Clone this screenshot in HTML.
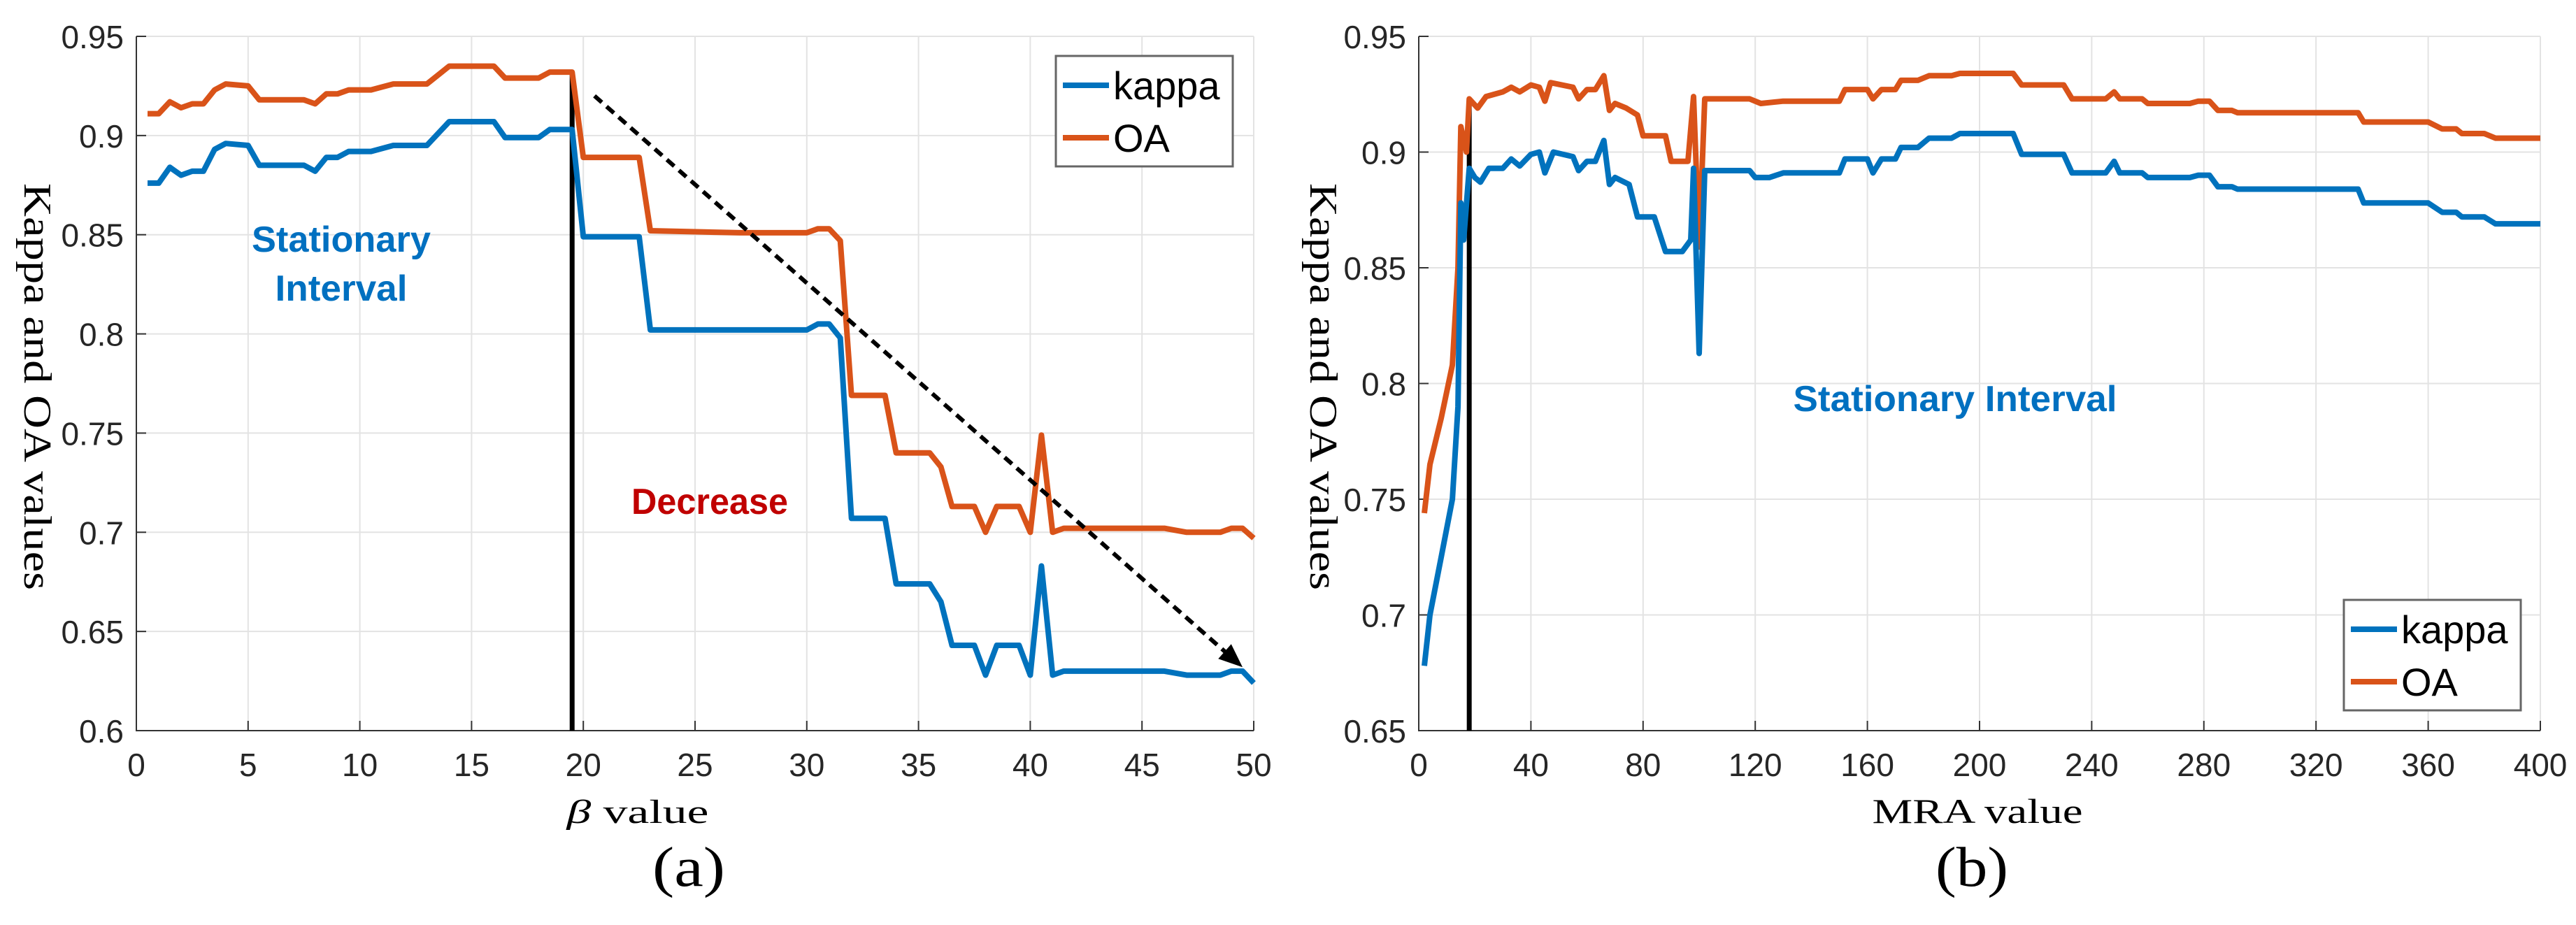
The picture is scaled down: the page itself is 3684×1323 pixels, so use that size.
<!DOCTYPE html>
<html><head><meta charset="utf-8">
<style>
html,body{margin:0;padding:0;background:#fff;}
svg{display:block;}
.tick{font-family:"Liberation Sans",sans-serif;font-size:46px;fill:#262626;}
.serif{font-family:"Liberation Serif",serif;fill:#000;}
</style></head>
<body>
<svg id="fig" width="3684" height="1323" viewBox="0 0 3684 1323"></svg>
<script>
// ---- Chart (a) data ----
const aX = [0.5,1,1.5,2,2.5,3,3.5,4,5,5.5,7.5,8,8.5,9,9.5,10.5,11.5,13,14,16,16.5,18,18.5,19.5,20,22.5,23,27,30,30.5,31,31.5,32,33.5,34,35.5,36,36.5,37.5,38,38.5,39.5,40,40.5,41,41.5,46,47,48.5,49,49.5,50];
const aKappa = [.876,.876,.884,.880,.882,.882,.893,.896,.895,.885,.885,.882,.889,.889,.892,.892,.895,.895,.907,.907,.899,.899,.903,.903,.849,.849,.802,.802,.802,.805,.805,.798,.707,.707,.674,.674,.665,.643,.643,.628,.643,.643,.628,.683,.628,.630,.630,.628,.628,.630,.630,.624];
const aOA = [.911,.911,.917,.914,.916,.916,.923,.926,.925,.918,.918,.916,.921,.921,.923,.923,.926,.926,.935,.935,.929,.929,.932,.932,.889,.889,.852,.851,.851,.853,.853,.847,.769,.769,.740,.740,.733,.713,.713,.700,.713,.713,.700,.749,.700,.702,.702,.700,.700,.702,.702,.697];
const aXTicks = [0,5,10,15,20,25,30,35,40,45,50];
const aYTicks = [0.6,0.65,0.7,0.75,0.8,0.85,0.9,0.95];
const aYLabels = ["0.6","0.65","0.7","0.75","0.8","0.85","0.9","0.95"];
const aVLine = [19.5, 0.932];
const aArrow = [20.5, 0.92, 49.5, 0.632];
// ---- Chart (b) data ----
const bX = [2,4,8,12,14,15,16,18,20,22,25,30,33,36,40,43,45,48,55,57,60,63,66,68,70,75,78,84,88,94,97,98,100,102,118,120,125,130,150,152,160,162,165,170,172,178,182,190,193,212,215,230,233,245,248,250,258,260,275,278,282,285,290,292,335,337,360,365,370,372,380,384,400];
const bKappa = [.678,.700,.725,.750,.790,.878,.862,.893,.889,.887,.893,.893,.897,.894,.899,.900,.891,.900,.898,.892,.896,.896,.905,.886,.889,.886,.872,.872,.857,.857,.862,.893,.813,.892,.892,.889,.889,.891,.891,.897,.897,.891,.897,.897,.902,.902,.906,.906,.908,.908,.899,.899,.891,.891,.896,.891,.891,.889,.889,.890,.890,.885,.885,.884,.884,.878,.878,.874,.874,.872,.872,.869,.869];
const bOAX = [2,4,8,12,14,15,17,18,21,24,30,33,36,40,43,45,47,55,57,60,63,66,68,70,74,78,80,88,90,96,98,100,102,118,122,130,150,152,160,162,165,170,172,178,182,190,193,212,215,230,233,245,248,250,258,260,275,278,282,285,290,292,335,337,360,365,370,372,380,384,400];
const bOA = [.744,.765,.785,.808,.850,.911,.900,.923,.919,.924,.926,.928,.926,.929,.928,.922,.930,.928,.923,.927,.927,.933,.918,.921,.919,.916,.907,.907,.896,.896,.924,.859,.923,.923,.921,.922,.922,.927,.927,.923,.927,.927,.931,.931,.933,.933,.934,.934,.929,.929,.923,.923,.926,.923,.923,.921,.921,.922,.922,.918,.918,.917,.917,.913,.913,.910,.910,.908,.908,.906,.906];
const bXTicks = [0,40,80,120,160,200,240,280,320,360,400];
const bYTicks = [0.65,0.7,0.75,0.8,0.85,0.9,0.95];
const bYLabels = ["0.65","0.7","0.75","0.8","0.85","0.9","0.95"];
const bVLine = [18, 0.92];

const NS="http://www.w3.org/2000/svg";
const svg=document.getElementById('fig');
function mk(tag,attrs,parent){const e=document.createElementNS(NS,tag);for(const k in attrs)e.setAttribute(k,attrs[k]);(parent||svg).appendChild(e);return e;}
const BLUE="#0072BD", ORANGE="#D95319";

function drawChart(id,cfg){
  const g=mk('g',{});
  
  
  const sx=v=>cfg.x0+(v-cfg.xmin)/(cfg.xmax-cfg.xmin)*(cfg.x1-cfg.x0);
  const sy=v=>cfg.y0-(v-cfg.ymin)/(cfg.ymax-cfg.ymin)*(cfg.y0-cfg.y1);
  cfg.xt.forEach(t=>{const l=mk('line',{x1:sx(t),x2:sx(t),y1:cfg.y0,y2:cfg.y1,stroke:'#e3e3e3','stroke-width':2},g);
    });
  cfg.yt.forEach(t=>{const l=mk('line',{x1:cfg.x0,x2:cfg.x1,y1:sy(t),y2:sy(t),stroke:'#e3e3e3','stroke-width':2},g);
    });
  const ax=mk('path',{d:`M${cfg.x0},${cfg.y1}V${cfg.y0}H${cfg.x1}`,stroke:'#333',fill:'none','stroke-width':2},g);
  
  cfg.xt.forEach(t=>{mk('line',{x1:sx(t),x2:sx(t),y1:cfg.y0,y2:cfg.y0-14,stroke:'#333','stroke-width':2},g);
    const tx=mk('text',{x:sx(t),y:1110,'text-anchor':'middle',class:'tick'},g);tx.textContent=t;
    });
  cfg.yt.forEach((t,i)=>{mk('line',{x1:cfg.x0,x2:cfg.x0+14,y1:sy(t),y2:sy(t),stroke:'#333','stroke-width':2},g);
    const tx=mk('text',{x:cfg.x0-18,y:sy(t)+17,'text-anchor':'end',class:'tick'},g);tx.textContent=cfg.yl[i];
    });
  const vl=mk('line',{x1:sx(cfg.vl[0]),x2:sx(cfg.vl[0]),y1:cfg.y0,y2:sy(cfg.vl[1]),stroke:'#000','stroke-width':7},g);
  
  const line=(xs,ys,c,name)=>{const p=mk('path',{d:xs.map((x,i)=>(i?'L':'M')+sx(x).toFixed(1)+','+sy(ys[i]).toFixed(1)).join(''),stroke:c,'stroke-width':8,fill:'none','stroke-linejoin':'round'},g);
    };
  line(cfg.ox,cfg.oa,ORANGE,'oa-line');
  line(cfg.kx,cfg.k,BLUE,'kappa-line');
  if(cfg.arrow){const a=cfg.arrow;const X1=sx(a[0]),Y1=sy(a[1]),X2=sx(a[2]),Y2=sy(a[3]);
    const ang=Math.atan2(Y2-Y1,X2-X1),L=34;
    const ar=mk('line',{x1:X1,y1:Y1,x2:X2-Math.cos(ang)*L*0.8,y2:Y2-Math.sin(ang)*L*0.8,stroke:'#000','stroke-width':6,'stroke-dasharray':'14,9'},g);
    
    const hx=X2-Math.cos(ang)*L,hy=Y2-Math.sin(ang)*L,px=-Math.sin(ang)*14,py=Math.cos(ang)*14;
    const hd=mk('polygon',{points:`${X2},${Y2} ${hx+px},${hy+py} ${hx-px},${hy-py}`,fill:'#000'},g);
    }
  const L=cfg.leg;
  const lb=mk('rect',{x:L[0],y:L[1],width:253,height:158,fill:'#fff',stroke:'#666','stroke-width':3},g);
  
  [['kappa',BLUE,42],['OA',ORANGE,117]].forEach(([n,c,dy])=>{
    mk('line',{x1:L[0]+10,x2:L[0]+76,y1:L[1]+dy,y2:L[1]+dy,stroke:c,'stroke-width':8},g);
    const t=mk('text',{x:L[0]+82,y:L[1]+dy+20,class:'tick',style:'font-size:56px;fill:#000'},g);t.textContent=n;
    });
}

drawChart('chart-a',{x0:195,x1:1793,y0:1045,y1:52,xmin:0,xmax:50,ymin:0.6,ymax:0.95,xt:aXTicks,yt:aYTicks,yl:aYLabels,
  kx:aX,k:aKappa,ox:aX,oa:aOA,vl:aVLine,arrow:aArrow,leg:[1510,80]});
drawChart('chart-b',{x0:2029,x1:3633,y0:1045,y1:52,xmin:0,xmax:400,ymin:0.65,ymax:0.95,xt:bXTicks,yt:bYTicks,yl:bYLabels,
  kx:bX,k:bKappa,ox:bOAX,oa:bOA,vl:bVLine,leg:[3352,858]});
</script>
<div style="position:absolute;left:0;top:0;width:3684px;height:1323px;pointer-events:none">
<svg width="3684" height="1323" style="position:absolute;left:0;top:0">
  <text x="488" y="360" text-anchor="middle" font-family="Liberation Sans, sans-serif" font-weight="bold" font-size="52" fill="#0070C0" textLength="256" lengthAdjust="spacingAndGlyphs">Stationary</text>
  <text x="488" y="430" text-anchor="middle" font-family="Liberation Sans, sans-serif" font-weight="bold" font-size="52" fill="#0070C0" textLength="189" lengthAdjust="spacingAndGlyphs">Interval</text>
  <text x="1015" y="735" text-anchor="middle" font-family="Liberation Sans, sans-serif" font-weight="bold" font-size="52" fill="#C00000" textLength="224" lengthAdjust="spacingAndGlyphs">Decrease</text>
  <text x="2796" y="588" text-anchor="middle" font-family="Liberation Sans, sans-serif" font-weight="bold" font-size="52" fill="#0070C0" textLength="463" lengthAdjust="spacingAndGlyphs">Stationary Interval</text>
  <text transform="translate(35,553) rotate(90)" text-anchor="middle" class="serif" font-size="56" textLength="582" lengthAdjust="spacingAndGlyphs">Kappa and OA values</text>
  <text transform="translate(1874,553) rotate(90)" text-anchor="middle" class="serif" font-size="56" textLength="582" lengthAdjust="spacingAndGlyphs">Kappa and OA values</text>
  <text x="912" y="1177" text-anchor="middle" class="serif" font-size="48" textLength="203" lengthAdjust="spacingAndGlyphs"><tspan font-style="italic">β</tspan>  value</text>
  <text x="2828" y="1177" text-anchor="middle" class="serif" font-size="50" textLength="301" lengthAdjust="spacingAndGlyphs">MRA value</text>
  <text x="985" y="1267" text-anchor="middle" class="serif" font-size="80" textLength="104" lengthAdjust="spacingAndGlyphs">(a)</text>
  <text x="2820" y="1267" text-anchor="middle" class="serif" font-size="80" textLength="104" lengthAdjust="spacingAndGlyphs">(b)</text>
</svg>
</div>
</body></html>
